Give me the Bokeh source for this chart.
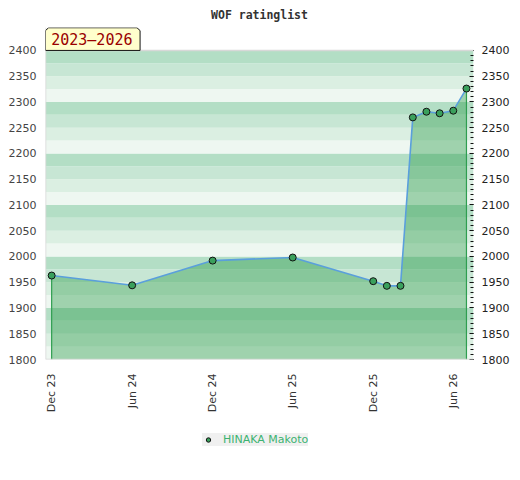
from datetime import datetime, timedelta
import numpy as np
from bokeh.plotting import figure
from bokeh.layouts import column
from bokeh.models import (Range1d, LinearAxis, FixedTicker, DatetimeTickFormatter,
                          BoxAnnotation, Label, PolyAnnotation, Legend, LegendItem, Span)
from bokeh.embed import file_html
from bokeh.resources import INLINE

# ---- data ----
dates = ["2023-12-01", "2024-06-01", "2024-12-01", "2025-06-01", "2025-12-01",
         "2026-01-01", "2026-02-01", "2026-03-01", "2026-04-01", "2026-05-01",
         "2026-06-01", "2026-07-01"]
ratings = [1963, 1944, 1992, 1998, 1952, 1943, 1943, 2270, 2281, 2278, 2283, 2326]
player = "HINAKA Makoto"
period = "2023\u20132026"
title = "WOF ratinglist"
tick_dates = ["2023-12-01", "2024-06-01", "2024-12-01", "2025-06-01", "2025-12-01", "2026-06-01"]
y_ticks = list(range(1800, 2401, 50))
y_minor = list(range(1800, 2401, 10))

xd = [datetime.fromisoformat(d) for d in dates]
tick_ms = [datetime.fromisoformat(d).timestamp() * 1000 for d in tick_dates]

x0, x1 = datetime(2023, 11, 17), datetime(2026, 7, 17)
ymin, ymax, ytop = 1800, 2400, 2444.5   # extra headroom holds the period badge

MARK = dict(size=7, fill_color="#3aa05c", line_color="#111111", line_width=1)

p = figure(width=512, height=415, output_backend="svg", toolbar_location=None,
           x_axis_type="datetime",
           x_range=Range1d(x0, x1), y_range=Range1d(ymin, ytop),
           min_border_left=45, min_border_right=37, min_border_top=27, min_border_bottom=55)

p.title.text = title
p.title.align = "center"
p.title.text_font = "DejaVu Sans Mono"
p.title.text_font_size = "11.5px"
p.title.text_font_style = "bold"
p.title.text_color = "#333333"
p.title.standoff = 11

p.outline_line_color = None
p.background_fill_color = "white"
p.xgrid.visible = False
p.ygrid.visible = False

# background bands
band_colors = ["#eef7f1", "#dbefe2", "#c7e6d4", "#b3dec5"]
for i, b in enumerate(range(ymin, ymax, 25)):
    p.add_layout(BoxAnnotation(bottom=b, top=b + 25, fill_color=band_colors[i % 4],
                               fill_alpha=1, line_alpha=0, level="underlay"))
for loc in (ymax, ymin):
    p.add_layout(Span(location=loc, dimension="width", line_color="#d8d8d8", line_width=1.5))
p.add_layout(Span(location=x0, dimension="height", line_color="#d8d8d8", line_width=1.5))

# area
p.varea(x=xd, y1=ymin, y2=ratings, fill_color="#1f9640", fill_alpha=0.38)
p.segment(x0=[xd[0], xd[-1]], y0=[ymin, ymin], x1=[xd[0], xd[-1]],
          y1=[ratings[0], ratings[-1]], line_color="#2e9e50", line_width=1.2)
p.line(xd, ratings, line_color="#5a9fdc", line_width=1.6)
p.scatter(xd, ratings, **MARK)

# axes
p.xaxis.ticker = FixedTicker(ticks=tick_ms)
p.xaxis.formatter = DatetimeTickFormatter(months="%b %y", days="%b %y", years="%b %y")
p.xaxis.major_label_orientation = np.pi / 2
p.xaxis.axis_line_color = None
p.xaxis.major_tick_line_color = None
p.xaxis.minor_tick_line_color = None
p.xaxis.major_label_text_font = "DejaVu Sans"
p.xaxis.major_label_text_font_size = "11px"
p.xaxis.major_label_text_color = "#333333"
p.xaxis.major_label_standoff = 8

p.yaxis.ticker = FixedTicker(ticks=y_ticks)
p.yaxis.axis_line_color = None
p.yaxis.major_tick_line_color = None
p.yaxis.minor_tick_line_color = None
p.yaxis.major_label_text_font = "DejaVu Sans"
p.yaxis.major_label_text_font_size = "11px"
p.yaxis.major_label_text_color = "#444444"
p.yaxis.major_label_standoff = 3

ra = LinearAxis(ticker=FixedTicker(ticks=y_ticks, minor_ticks=y_minor))
ra.axis_line_color = None
ra.major_tick_in = 4
ra.major_tick_out = 0
ra.minor_tick_in = 3
ra.minor_tick_out = 0
ra.major_tick_line_color = "#111111"
ra.minor_tick_line_color = "#111111"
ra.major_label_text_font = "DejaVu Sans"
ra.major_label_text_font_size = "11px"
ra.major_label_text_color = "#222222"
ra.major_label_standoff = 8
p.add_layout(ra, "right")

# period badge (top-left corner, above the 2400 line)
bx = [x0, x0, x0 + timedelta(days=7), x0 + timedelta(days=208),
      x0 + timedelta(days=215), x0 + timedelta(days=215)]
bx = [d.timestamp() * 1000 for d in bx]
by = [ymax, ytop - 6, ytop - 0.5, ytop - 0.5, ytop - 6, ymax]
p.add_layout(PolyAnnotation(xs=bx, ys=by, fill_color="#ffffcc", fill_alpha=1,
                            line_color="#111111", line_alpha=1, line_width=1))
p.add_layout(Label(x=(x0 + timedelta(days=13)).timestamp() * 1000, y=ymax + 20,
                   text=period, text_font="DejaVu Sans Mono", text_font_size="15px",
                   text_baseline="alphabetic", text_color="#990000"))

# legend strip below the chart (its key points lie outside this strip's view)
q = figure(width=512, height=49, output_backend="svg", toolbar_location=None,
           x_range=Range1d(0, 1), y_range=Range1d(0, 1),
           x_axis_location=None, y_axis_location=None,
           min_border_left=0, min_border_right=0, min_border_top=0, min_border_bottom=0)
q.outline_line_color = None
q.xgrid.visible = False
q.ygrid.visible = False
key = q.scatter(x=ratings, y=ratings, **MARK)
legend = Legend(items=[LegendItem(label=player, renderers=[key])],
                location=(157, 18), orientation="horizontal",
                background_fill_color="#f0f0f0", background_fill_alpha=1,
                border_line_color=None, label_text_color="#3cb371",
                label_text_font="DejaVu Sans", label_text_font_size="11px",
                glyph_width=12, glyph_height=11, label_height=11, label_standoff=9,
                padding=4, margin=0)
q.add_layout(legend, "center")

open("out.html", "w").write(file_html(column(p, q, spacing=0), INLINE))
